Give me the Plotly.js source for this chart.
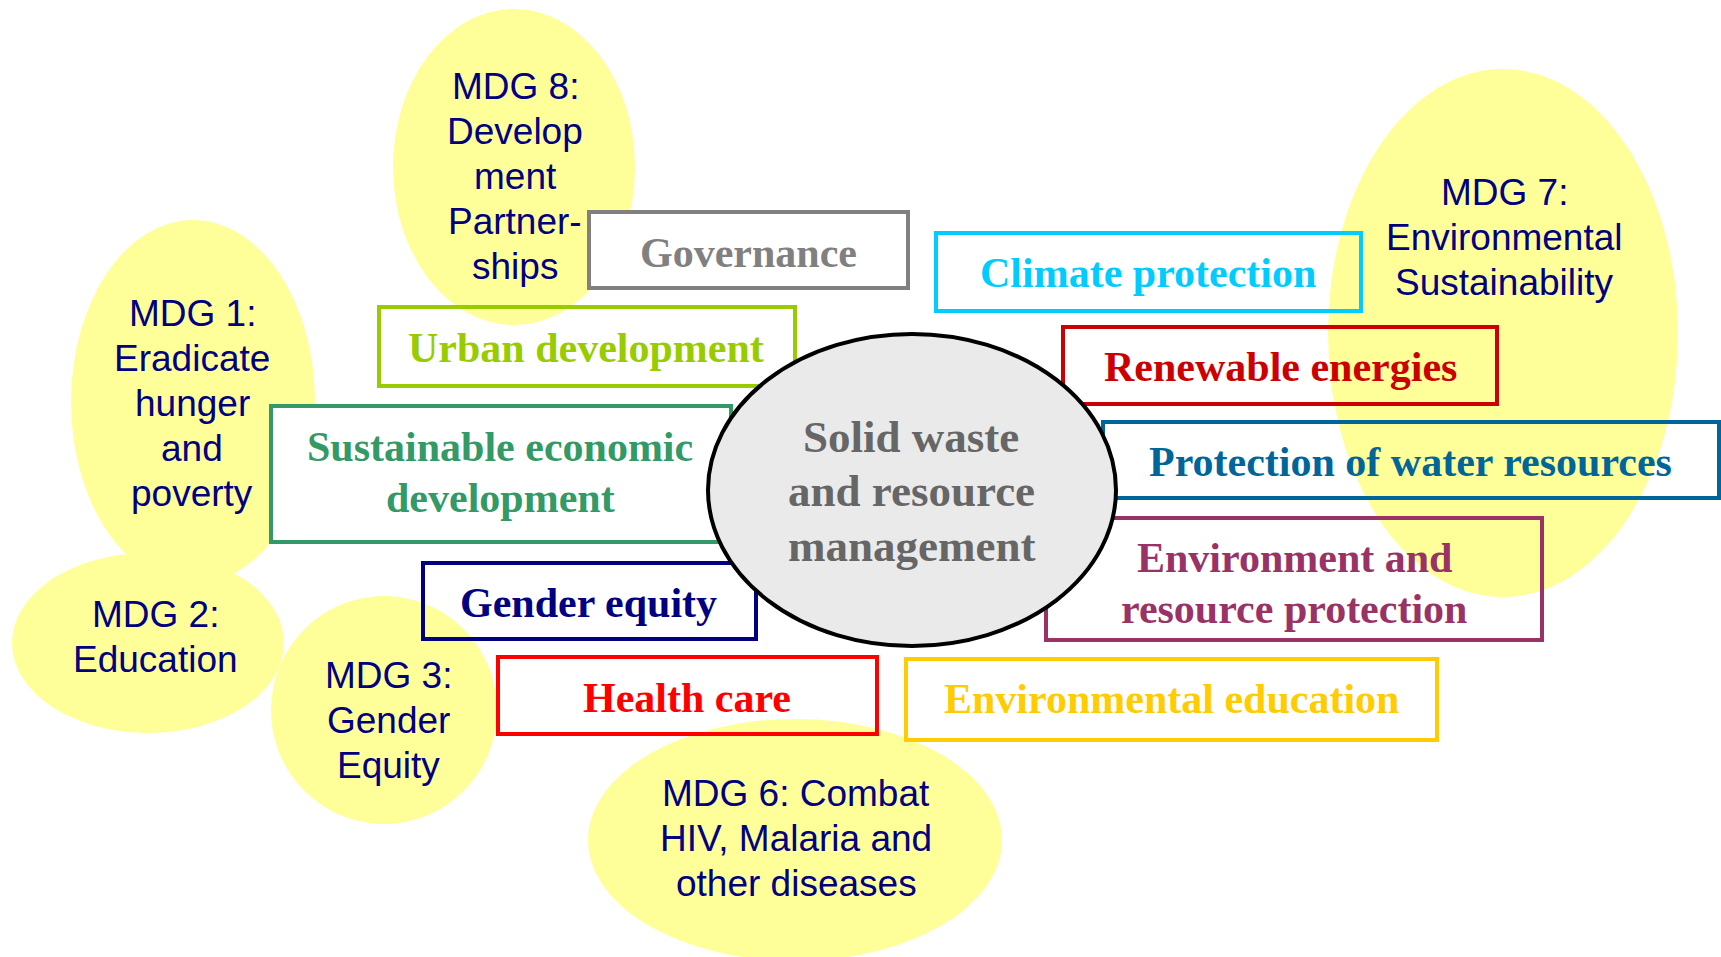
<!DOCTYPE html>
<html>
<head>
<meta charset="utf-8">
<script src="https://cdn.plot.ly/plotly-3.0.1.min.js"></script>
<style>html,body{margin:0;padding:0;background:#fff;}#chart{width:1721px;height:957px;}</style>
</head>
<body>
<div id="chart"></div>
<script>
// ---- data: labels ----
const goalLabels = [
  "MDG 8:\nDevelop\nment\nPartner-\nships",
  "MDG 1:\nEradicate\nhunger\nand\npoverty",
  "MDG 2:\nEducation",
  "MDG 3:\nGender\nEquity",
  "MDG 6: Combat\nHIV, Malaria and\nother diseases",
  "MDG 7:\nEnvironmental\nSustainability"
];
const themeLabels = [
  "Governance",
  "Climate protection",
  "Urban development",
  "Renewable energies",
  "Sustainable economic\ndevelopment",
  "Protection of water resources",
  "Environment and\nresource protection",
  "Gender equity",
  "Health care",
  "Environmental education"
];
const centerLabel = "Solid waste\nand resource\nmanagement";

// ---- layout geometry (pixels of the 1721x957 canvas) ----
const goalGeom = [ // cx, cy, rx, ry, textX, textY
  [514, 167, 121, 158, 515, 176],
  [193, 402, 122, 182, 192, 403],
  [148, 643, 136, 90, 155, 637],
  [384, 710, 113, 114, 388, 720],
  [795, 840, 207, 121, 796, 838],
  [1503, 333, 175, 264, 1504, 237]
];
const themeGeom = [ // x0, y0, x1, y1, textX, textY
  [589, 212, 908, 288, 748, 253],
  [936, 233, 1361, 311, 1148, 273],
  [379, 307, 795, 386, 586, 348],
  [1063, 327, 1497, 404, 1280, 367],
  [271, 406, 731, 542, 500, 472],
  [1103, 422, 1719, 498, 1410, 462],
  [1046, 518, 1542, 640, 1294, 583],
  [423, 563, 756, 639, 588, 603],
  [498, 657, 877, 734, 687, 698],
  [906, 659, 1437, 740, 1171, 699]
];
const themeColors = ["#808080","#00CCFF","#99CC00","#CC0000","#339966","#006699","#993366","#000080","#FF0000","#FFCC00"];
const themeFill = ["#FFFFFF","rgba(0,0,0,0)","rgba(0,0,0,0)","rgba(0,0,0,0)","#FFFFFF","rgba(0,0,0,0)","rgba(0,0,0,0)","rgba(0,0,0,0)","rgba(0,0,0,0)","rgba(0,0,0,0)"];
const centerGeom = [912, 490, 204, 156, 911, 491];

const shapes = [];
const annotations = [];

function addLines(text, x, y, gap, font) {
  const lines = text.split("\n");
  const n = lines.length;
  lines.forEach((ln, i) => {
    annotations.push({
      x: x, y: y + (i - (n - 1) / 2) * gap, xref: "x", yref: "y",
      text: ln, showarrow: false, xanchor: "center", yanchor: "middle",
      font: font
    });
  });
}

const goalFont = {family: "Liberation Sans, Arial, sans-serif", size: 37, color: "#000080"};
goalLabels.forEach((lab, i) => {
  const g = goalGeom[i];
  shapes.push({type: "circle", xref: "x", yref: "y", layer: "below",
    x0: g[0] - g[2], x1: g[0] + g[2], y0: g[1] - g[3], y1: g[1] + g[3],
    fillcolor: "#FFFF99", line: {width: 0}});
  addLines(lab, g[4], g[5], 45, goalFont);
});

themeLabels.forEach((lab, i) => {
  const t = themeGeom[i];
  shapes.push({type: "rect", xref: "x", yref: "y", layer: "above",
    x0: t[0], x1: t[2], y0: t[1], y1: t[3],
    fillcolor: themeFill[i], line: {color: themeColors[i], width: 4}});
  addLines(lab, t[4], t[5], 51, {family: "Liberation Serif, Times New Roman, serif", size: 42, color: themeColors[i], weight: "bold"});
});

const c = centerGeom;
shapes.push({type: "circle", xref: "x", yref: "y", layer: "above",
  x0: c[0] - c[2], x1: c[0] + c[2], y0: c[1] - c[3], y1: c[1] + c[3],
  fillcolor: "#EAEAEA", line: {color: "#000000", width: 4}});
addLines(centerLabel, c[4], c[5], 54.5, {family: "Liberation Serif, Times New Roman, serif", size: 45, color: "#666666", weight: "bold"});

const layout = {
  width: 1721, height: 957,
  margin: {l: 0, r: 0, t: 0, b: 0, pad: 0},
  paper_bgcolor: "#FFFFFF", plot_bgcolor: "#FFFFFF",
  showlegend: false,
  xaxis: {range: [0, 1721], visible: false, fixedrange: true},
  yaxis: {range: [957, 0], visible: false, fixedrange: true},
  shapes: shapes,
  annotations: annotations
};

Plotly.newPlot("chart", [{x: [], y: [], type: "scatter", mode: "markers", hoverinfo: "skip"}], layout, {staticPlot: true, displayModeBar: false});
</script>
</body>
</html>
